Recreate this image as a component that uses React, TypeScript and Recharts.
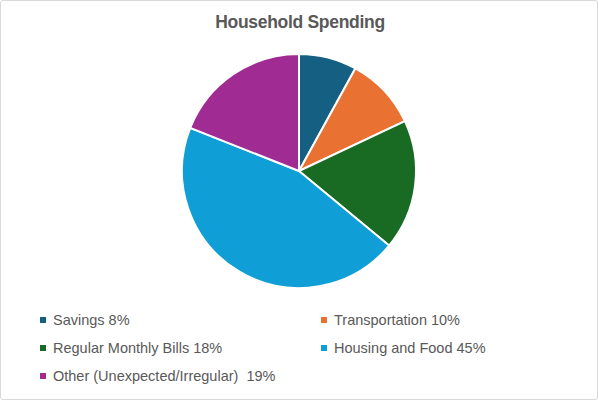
import { PieChart, Pie, Cell, Legend } from "recharts";

const categories = [
  "Savings",
  "Transportation",
  "Regular Monthly Bills",
  "Housing and Food",
  "Other (Unexpected/Irregular) ",
];
const shares = [8, 10, 18, 45, 19];
const colors = ["#156082", "#E97132", "#196B24", "#0F9ED5", "#A02B93"];

const chartData = categories.map((name, i) => ({ name, value: shares[i] }));

const GridLegend = () => (
  <div
    style={{
      display: "grid",
      gridTemplateColumns: "281px 240px",
      rowGap: 0,
      paddingLeft: 40,
    }}
  >
    {chartData.map((d, i) => (
      <div
        key={d.name}
        style={{
          display: "flex",
          alignItems: "center",
          height: 28,
          fontSize: 14.5,
          color: "#595959",
          whiteSpace: "pre",
        }}
      >
        <span
          style={{
            width: 6,
            height: 6,
            background: colors[i],
            marginRight: 7,
            display: "inline-block",
          }}
        />
        {`${d.name} ${d.value}%`}
      </div>
    ))}
  </div>
);

const HouseholdSpendingPie = () => {
  return (
    <div
      style={{
        position: "absolute",
        top: 0,
        left: 0,
        width: 598,
        height: 400,
        background: "#fff",
        border: "1px solid #d9d9d9",
        borderRadius: 3,
        boxSizing: "border-box",
        fontFamily: "'Liberation Sans', Arial, sans-serif",
      }}
    >
      <div
        style={{
          position: "absolute",
          top: 11,
          left: 0,
          width: 598,
          textAlign: "center",
          fontSize: 17.5,
          fontWeight: "bold",
          color: "#595959",
          letterSpacing: -0.3,
        }}
      >
        Household Spending
      </div>
      <PieChart
        width={596}
        height={398}
        margin={{ top: 0, right: 0, bottom: 0, left: 0 }}
        style={{ position: "absolute", top: 0, left: 0 }}
      >
        <Pie
          data={chartData}
          dataKey="value"
          nameKey="name"
          cx={298}
          cy={170}
          outerRadius={117}
          startAngle={90}
          endAngle={-270}
          stroke="#fff"
          strokeWidth={2}
          isAnimationActive={false}
        >
          {chartData.map((d, i) => (
            <Cell key={d.name} fill={colors[i]} />
          ))}
        </Pie>
        <Legend
          content={<GridLegend />}
          wrapperStyle={{ position: "absolute", top: 305, left: -1, width: 596 }}
        />
      </PieChart>
    </div>
  );
};

export default HouseholdSpendingPie;
